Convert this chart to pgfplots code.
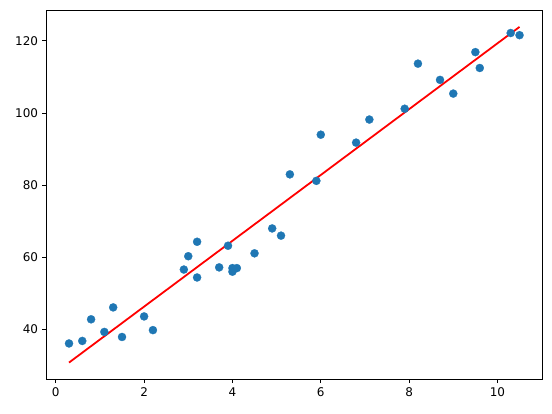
\documentclass[border=0pt]{standalone}
\usepackage{fontspec}
\setmainfont{DejaVu Sans}
\usepackage{pgfplots}
\pgfplotsset{compat=1.18}
\definecolor{mplblue}{HTML}{1F77B4}

\begin{document}
\begin{tikzpicture}
\useasboundingbox (-38.8pt,-28.4pt) rectangle (421.9pt,316.3pt);
\begin{axis}[
    at={(0,0)}, anchor=south west,
    scale only axis,
    width=413.6pt, height=307.4pt,
    xmin=-0.21, xmax=11.01,
    ymin=26.25, ymax=128.4,
    xtick={0,2,...,10}, ytick={40,60,...,120},
    tick align=outside,
    xtick pos=lower, ytick pos=left,
    major tick length=3.5pt,
    every tick/.style={black, line width=0.8pt},
    axis line style={line width=0.8pt},
    tick label style={font=\fontsize{10}{12}\selectfont},
    /pgf/number format/assume math mode=true,
]
\addplot[only marks, mark=*, mark size=3.4pt, mark options={fill=mplblue, draw=mplblue, line width=0.2pt}] coordinates {
(0.3,36.1) (0.6,36.8) (0.8,42.8) (1.1,39.3) (1.3,46.1) (1.5,37.9)
(2.0,43.6) (2.2,39.8) (2.9,56.6) (3.0,60.3) (3.2,64.3) (3.2,54.4)
(3.7,57.2) (3.9,63.2) (4.0,56.0) (4.0,57.0) (4.1,57.0) (4.5,61.1)
(4.9,68.0) (5.1,66.0) (5.3,83.0) (5.9,81.2) (6.0,94.0) (6.8,91.8)
(7.1,98.2) (7.9,101.2) (8.2,113.7) (8.7,109.2) (9.0,105.4) (9.5,116.9)
(9.6,112.5) (10.3,122.2) (10.5,121.6)
};
\addplot[red, line width=1.5pt] coordinates {(0.3,30.8) (10.5,123.9)};
\end{axis}
\end{tikzpicture}
\end{document}
